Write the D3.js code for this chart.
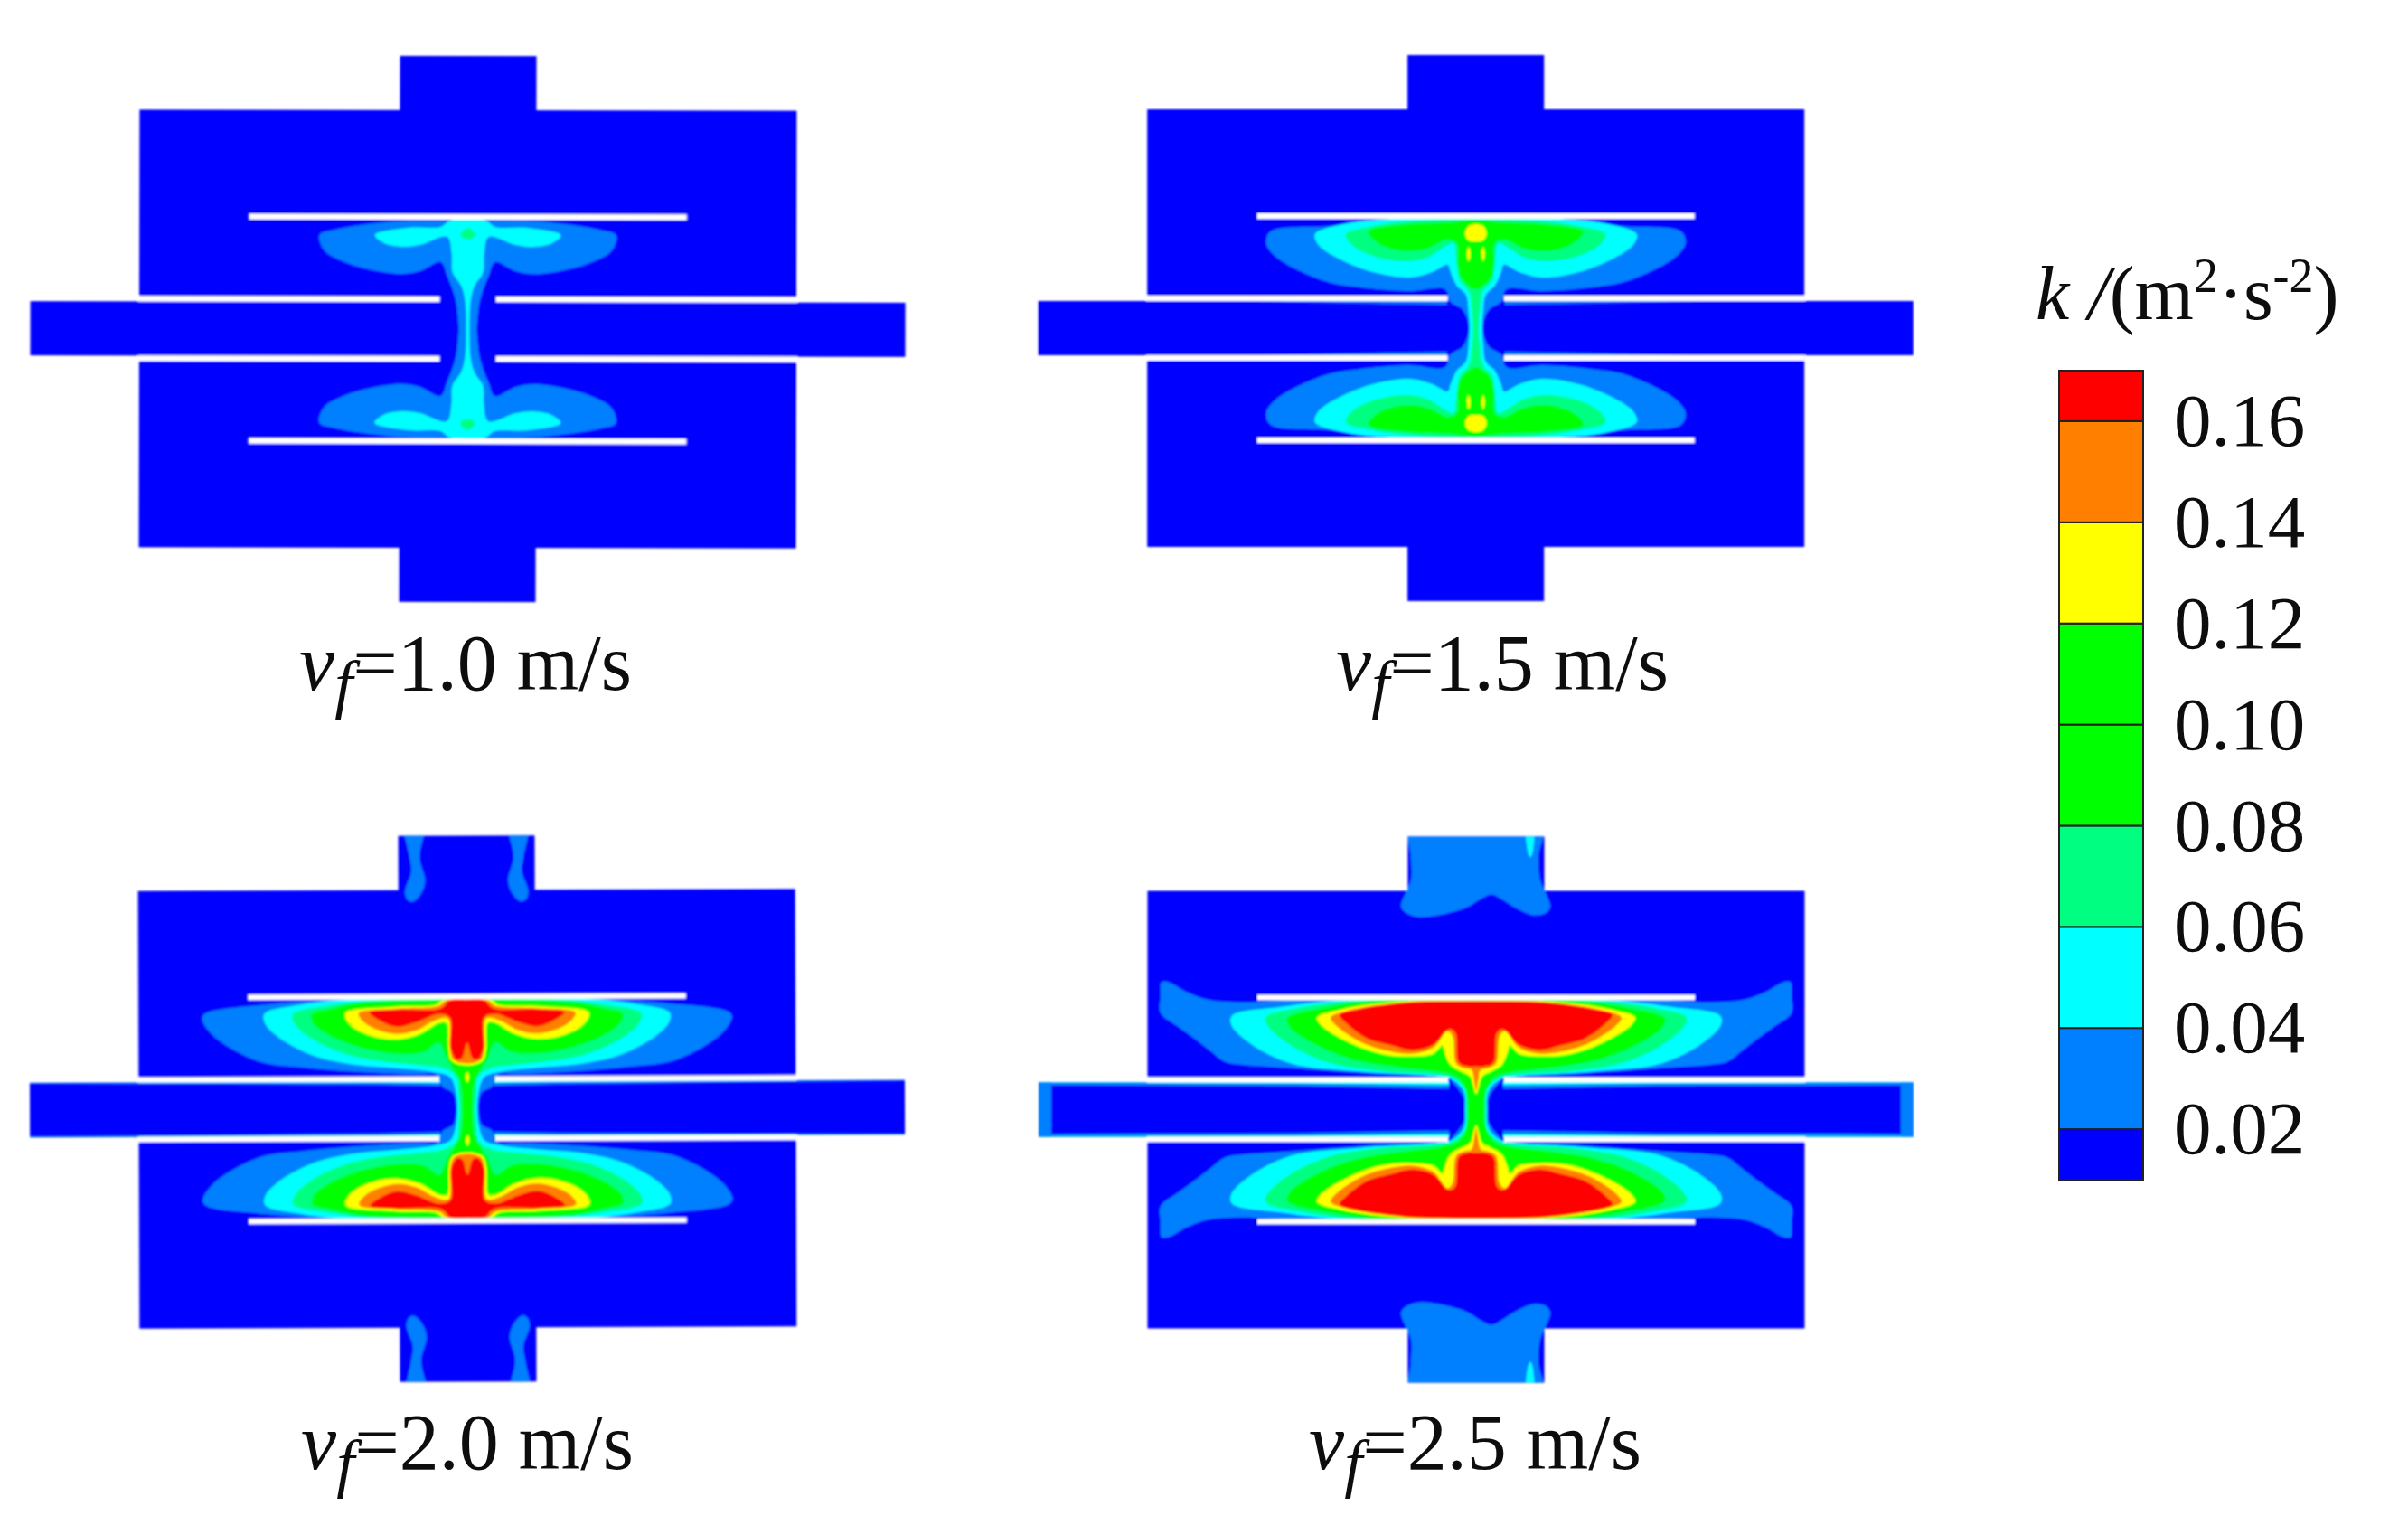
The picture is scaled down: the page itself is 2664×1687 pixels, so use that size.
<!DOCTYPE html>
<html>
<head>
<meta charset="utf-8">
<title>k contours</title>
<script src="https://d3js.org/d3.v7.min.js"></script>
<style>
  body { margin: 0; background: #fff; }
  text { font-family: "Liberation Serif", serif; fill: #111; }
</style>
</head>
<body>
<div id="chart"></div>
<script>
// Colour bar values
const kThresholds = [0.02, 0.04, 0.06, 0.08, 0.10, 0.12, 0.14, 0.16];
const kColors = ['#0000ff', '#0080ff', '#00ffff', '#00ff80', '#00ff00', '#00ff00', '#ffff00', '#ff8000', '#ff0000'];
const kExtent = [0.01, 0.17];
const speedLabels = ['1.0', '1.5', '2.0', '2.5'];

// Domain outline, upper right quarter (reference px from the centre)
const domainOutline = [[0, 302], [75.5, 302], [75.5, 242], [363.5, 242], [363.5, 36], [363.5, 30], [484, 30], [484, 0]];
const plate = { reach: 242, level: 124 };
const slit = { from: 31, to: 364, low: 30, high: 36 };

// Contours: x from the symmetry axis, y from the channel centre line, right upper quarter
const v10k02 = [[0, 120], [80, 119], [146, 110], [164, 104], [159, 87], [139, 75], [106, 65], [73, 61], [53, 64], [30, 74], [23, 59], [17, 44], [13, 30], [11, 14], [10, 0]];
const v10k04 = [[0, 121], [20, 120], [30, 113], [66, 112], [103, 104], [93, 95], [73, 91], [53, 93], [23, 102], [18, 83], [17, 63], [7, 47], [3, 30], [2, 0]];
const v10k06 = [[0, 112], [8, 105], [5, 100], [0, 100]];

const v15k02 = [[0, 120], [100, 120], [160, 113], [227, 107], [232, 94], [220, 78], [167, 52], [127, 45], [74, 41], [34, 43], [28, 29], [15, 21], [9, 9], [8, 0]];
const v15k04 = [[0, 121], [94, 121], [147, 115], [178, 104], [174, 92], [150, 76], [114, 62], [74, 56], [48, 62], [31, 70], [28, 62], [21, 47], [11, 37], [8, 17], [7, 0]];
const v15k06 = [[0, 120], [61, 119], [114, 113], [144, 104], [137, 92], [114, 80], [78, 74], [54, 78], [34, 90], [25, 94], [21, 70], [18, 53], [8, 41], [4, 17], [3, 0]];
const v15k08 = [[0, 120], [28, 117], [74, 115], [119, 107], [111, 96], [94, 88], [74, 85], [54, 88], [31, 98], [21, 94], [20, 70], [16, 55], [5, 45], [0, 43]];
const v15k12 = [[0, 115], [8, 113], [12, 105], [8, 97], [0, 96]];
const v15streak = [[8, 90], [10, 82], [8, 74], [6, 82]];
const v15edge = [[32, 30], [260, 30], [120, 27.5], [32, 26]];

const v20k02 = [[0, 121], [139, 121], [222, 116], [290, 106], [293, 100], [280, 81], [230, 53], [180, 46], [118, 41], [56, 38], [35, 38], [30, 30], [27, 24], [16, 18], [13, 8], [12.5, 0]];
const v20k04 = [[0, 121], [139, 121], [189, 115], [224, 106], [224, 96], [209, 80], [172, 60], [131, 50], [77, 45], [39, 41], [19, 35], [13, 20], [11, 0]];
const v20k06 = [[0, 121], [97, 120], [151, 115], [193, 105], [191, 95], [172, 78], [135, 61], [97, 53], [48, 48], [27, 45], [12, 36], [10, 20], [8.5, 0]];
const v20k08 = [[0, 121], [56, 120], [118, 118], [151, 111], [172, 105], [170, 95], [151, 81], [118, 68], [77, 61], [48, 63], [31, 73], [23, 56], [15, 43], [8, 30], [6, 15], [5.5, 0]];
const v20k12 = [[0, 121], [27, 120], [35, 115], [81, 113], [135, 106], [129, 93], [106, 81], [77, 77], [52, 83], [31, 95], [23, 95], [21, 66], [17, 53], [0, 48]];
const v20k14 = [[0, 121], [23, 120], [31, 114], [77, 111], [120, 106], [114, 96], [97, 87], [77, 83], [56, 87], [35, 98], [21, 100], [19, 66], [15, 54], [0, 50]];
const v20k16 = [[0, 121], [19, 120], [29, 111], [77, 110], [108, 107], [93, 96], [77, 91], [56, 96], [31, 105], [19, 101], [18, 66], [12, 55], [6, 56], [0, 73]];
const v20throat = [[0, 41], [2, 35], [0, 29]];
const v20inlet = [[46, 320], [68, 320], [63, 278], [61, 263], [68, 241], [66, 232], [60, 229], [50, 239], [46, 253], [52, 278]];
const v20edge02 = [[30, 31], [484, 31], [484, 29.5], [300, 28.5], [100, 27], [30, 25.5]];
const v20edge04 = [[30, 31], [484, 31], [484, 30.3], [100, 29.5], [30, 28.5]];

const v25k02 = [[0, 122], [200, 122], [260, 119], [298, 122], [322, 131], [340, 141], [348, 141], [349, 125], [349, 107], [330, 92], [312, 79], [294, 65], [278, 53], [262, 50], [205, 46], [102, 39], [33, 36], [23, 27], [14, 14], [13, 0]];
const v25k04 = [[0, 122], [149, 121], [214, 114], [270, 104], [271, 94], [251, 74], [205, 51], [126, 42], [47, 37], [28, 34], [14, 21], [12, 0]];
const v25k06 = [[0, 122], [126, 121], [200, 112], [233, 102], [230, 92], [205, 71], [163, 52], [102, 42], [47, 39], [28, 36], [13, 24], [11, 0]];
const v25k08 = [[0, 122], [102, 121], [172, 112], [209, 101], [206, 91], [172, 69], [130, 54], [79, 46], [37, 41], [21, 36], [11, 21], [9, 0]];
const v25k12 = [[0, 121], [79, 120], [149, 111], [176, 102], [172, 94], [140, 74], [102, 61], [70, 59], [47, 62], [37, 71], [35, 64], [28, 49], [16, 42], [7, 37], [2, 22], [0, 17]];
const v25k14 = [[0, 120], [79, 119], [144, 109], [161, 102], [156, 94], [126, 74], [93, 64], [70, 62], [47, 69], [32, 87], [26, 81], [22, 51], [13, 46], [5, 44], [2, 31], [0, 21]];
const v25k16 = [[0, 120], [79, 118], [130, 111], [151, 105], [144, 96], [121, 79], [93, 71], [70, 66], [47, 72], [30, 89], [23, 85], [19, 52], [9, 48], [0, 48]];
const v25inlet = [[-72, 320], [-72, 279], [-72, 254], [-83, 225], [-78, 218], [-62, 213], [-12, 223], [5, 233], [17, 238], [28, 233], [44, 223], [64, 215], [78, 218], [82, 225], [71, 254], [69, 279], [73, 320]];
const v25streak = [[56, 320], [63, 320], [61, 280], [59, 280]];
const v25edge02 = [[30, 31], [484, 31], [484, 27], [200, 26], [30, 23]];
const v25edge04 = [[30, 31], [484, 31], [484, 29.5], [200, 29], [30, 27]];
const v25cap = [[470, 31], [490, 31], [490, -1], [470, -1]];

// Layers per panel, drawn in this order
const panelContours = [
  [[0.02, v10k02], [0.04, v10k04], [0.06, v10k06]],
  [[0.02, v15k02], [0.04, v15k04], [0.06, v15k06], [0.08, v15k08], [0.12, v15k12]],
  [[0.02, v20k02], [0.04, v20k04], [0.06, v20k06], [0.08, v20k08], [0.12, v20k12], [0.14, v20k14], [0.16, v20k16]],
  [[0.02, v25k02], [0.04, v25k04], [0.06, v25k06], [0.08, v25k08], [0.12, v25k12], [0.14, v25k14], [0.16, v25k16]]
];
// small closed patches mirrored in x and y
const panelIslands = [[], [[0.12, v15streak]], [[0.02, v20inlet]], []];
// patches mirrored in y only
const panelOneSided = [[], [], [], [[0.02, v25inlet], [0.04, v25streak]]];
// straight strips along the channel walls
const panelStrips = [
  [],
  [[0.02, v15edge]],
  [[0.02, v20edge02], [0.04, v20edge04]],
  [[0.02, v25edge02], [0.04, v25edge04], [0.02, v25cap]]
];
const throatMarks = [[], [], [[0.12, v20throat]], []];

// Page geometry
const svgWidth = 2664;
const svgHeight = 1687;
const panelCx = [517.5, 1632.7, 517, 1633];
const panelCy = [364, 363, 1226.4, 1227.4];
const panelTilt = [0.1, 0, -0.19, 0];
const labelX = [515, 1662, 517, 1632];
const labelY = [763, 763, 1625, 1625];

const svg = d3.select('#chart')
  .append('svg')
  .attr('width', svgWidth)
  .attr('height', svgHeight);

const defs = svg.append('defs');
defs.append('filter')
  .attr('id', 'soft')
  .attr('x', '-5%').attr('y', '-5%')
  .attr('width', '110%').attr('height', '110%')
  .append('feGaussianBlur')
  .attr('stdDeviation', 1);
defs.append('filter')
  .attr('id', 'softText')
  .attr('x', '-5%').attr('y', '-10%')
  .attr('width', '110%').attr('height', '120%')
  .append('feGaussianBlur')
  .attr('stdDeviation', 0.7);

const kColor = d3.scaleThreshold().domain(kThresholds).range(kColors);

// Mirror a quarter contour into closed rings
function quarterToRings(points) {
  const last = points[points.length - 1];
  if (last[0] !== 0) {
    // crosses the channel centre line
    const right = points.concat(points.slice(0, -1).reverse().map(p => [p[0], -p[1]]));
    const left = right.slice(1, -1).reverse().map(p => [-p[0], p[1]]);
    return [right.concat(left)];
  }
  const left = points.slice(1, -1).reverse().map(p => [-p[0], p[1]]);
  const ring = points.concat(left);
  return [ring, ring.map(p => [p[0], -p[1]])];
}

const flipX = pts => pts.map(p => [-p[0], p[1]]);
const flipY = pts => pts.map(p => [p[0], -p[1]]);
const fourWay = pts => [pts, flipX(pts), flipY(pts), flipX(flipY(pts))];

speedLabels.forEach((speed, i) => {
  const xScale = d3.scaleLinear().domain([-500, 500]).range([panelCx[i] - 500, panelCx[i] + 500]);
  const yScale = d3.scaleLinear().domain([-320, 320]).range([panelCy[i] + 320, panelCy[i] - 320]);

  const smooth = d3.line().x(d => xScale(d[0])).y(d => yScale(d[1])).curve(d3.curveCatmullRomClosed.alpha(0.5));
  const straight = d3.line().x(d => xScale(d[0])).y(d => yScale(d[1])).curve(d3.curveLinearClosed);

  const outlineRing = quarterToRings(domainOutline)[0];

  defs.append('clipPath')
    .attr('id', `domain${i}`)
    .append('path')
    .attr('d', straight(outlineRing));

  const panel = svg.append('g')
    .attr('filter', 'url(#soft)')
    .attr('transform', `rotate(${panelTilt[i]}, ${panelCx[i]}, ${panelCy[i]})`);

  panel.append('path')
    .attr('d', straight(outlineRing))
    .attr('fill', kColor(0));

  const field = panel.append('g').attr('clip-path', `url(#domain${i})`);

  const layers = [];
  panelOneSided[i].forEach(d => [d[1], flipY(d[1])].forEach(r => layers.push({ level: d[0], ring: r, line: smooth })));
  panelStrips[i].forEach(d => fourWay(d[1]).forEach(r => layers.push({ level: d[0], ring: r, line: straight })));
  panelContours[i].forEach(d => quarterToRings(d[1]).forEach(r => layers.push({ level: d[0], ring: r, line: smooth })));
  panelIslands[i].forEach(d => fourWay(d[1]).forEach(r => layers.push({ level: d[0], ring: r, line: smooth })));
  throatMarks[i].forEach(d => quarterToRings(d[1]).forEach(r => layers.push({ level: d[0], ring: r, line: smooth })));

  field.selectAll('path')
    .data(layers)
    .enter()
    .append('path')
    .attr('d', d => d.line(d.ring))
    .attr('fill', d => kColor(d.level));

  // white gaps: the two long plates and the four short ones beside the channel
  [1, -1].forEach(side => {
    panel.append('rect')
      .attr('x', xScale(-plate.reach))
      .attr('y', yScale(side * plate.level) - 3)
      .attr('width', xScale(plate.reach) - xScale(-plate.reach))
      .attr('height', 6)
      .attr('fill', '#fff');
    [1, -1].forEach(lr => {
      const xa = xScale(lr * slit.from);
      const xb = xScale(lr * slit.to);
      const ya = yScale(side * slit.low);
      const yb = yScale(side * slit.high);
      panel.append('rect')
        .attr('x', Math.min(xa, xb))
        .attr('y', Math.min(ya, yb))
        .attr('width', Math.abs(xb - xa))
        .attr('height', Math.abs(yb - ya))
        .attr('fill', '#fff');
    });
  });

  // panel label
  const label = svg.append('text')
    .attr('x', labelX[i])
    .attr('y', labelY[i])
    .attr('text-anchor', 'middle')
    .attr('font-size', 88)
    .attr('filter', 'url(#softText)');
  label.append('tspan').attr('font-style', 'italic').text('v');
  label.append('tspan').attr('font-style', 'italic').attr('font-size', 72).attr('dy', 18).text('f');
  label.append('tspan').attr('dy', -18).text(`=${speed} m/s`);
});

// Colour bar
const barLeft = 2278;
const barWidth = 93;
const barScale = d3.scaleLinear().domain(kExtent).range([1305, 410]);
const barEdges = [kExtent[0], ...kThresholds, kExtent[1]];
const barGroup = svg.append('g').attr('filter', 'url(#softText)');

barGroup.selectAll('rect')
  .data(d3.pairs(barEdges))
  .enter()
  .append('rect')
  .attr('x', barLeft)
  .attr('y', d => barScale(d[1]))
  .attr('width', barWidth)
  .attr('height', d => barScale(d[0]) - barScale(d[1]))
  .attr('fill', d => kColor(d[0]))
  .attr('stroke', '#222')
  .attr('stroke-width', 2);

const barAxis = d3.axisRight(barScale)
  .tickValues(kThresholds)
  .tickSize(0)
  .tickPadding(34)
  .tickFormat(d3.format('.2f'));

const axisGroup = svg.append('g')
  .attr('transform', `translate(${barLeft + barWidth}, 0)`)
  .attr('filter', 'url(#softText)')
  .call(barAxis);
axisGroup.select('.domain').remove();
axisGroup.selectAll('text')
  .attr('font-family', '"Liberation Serif", serif')
  .attr('font-size', 83)
  .attr('fill', '#111');

// Colour bar title
const barTitle = svg.append('text')
  .attr('x', 2252)
  .attr('y', 353)
  .attr('font-size', 84)
  .attr('filter', 'url(#softText)');
barTitle.append('tspan').attr('font-style', 'italic').text('k /');
barTitle.append('tspan').text('(m');
barTitle.append('tspan').attr('font-size', 54).attr('dy', -30).text('2');
barTitle.append('tspan').attr('dy', 30).text('·s');
barTitle.append('tspan').attr('font-size', 54).attr('dy', -30).text('-2');
barTitle.append('tspan').attr('dy', 30).text(')');
</script>
</body>
</html>
